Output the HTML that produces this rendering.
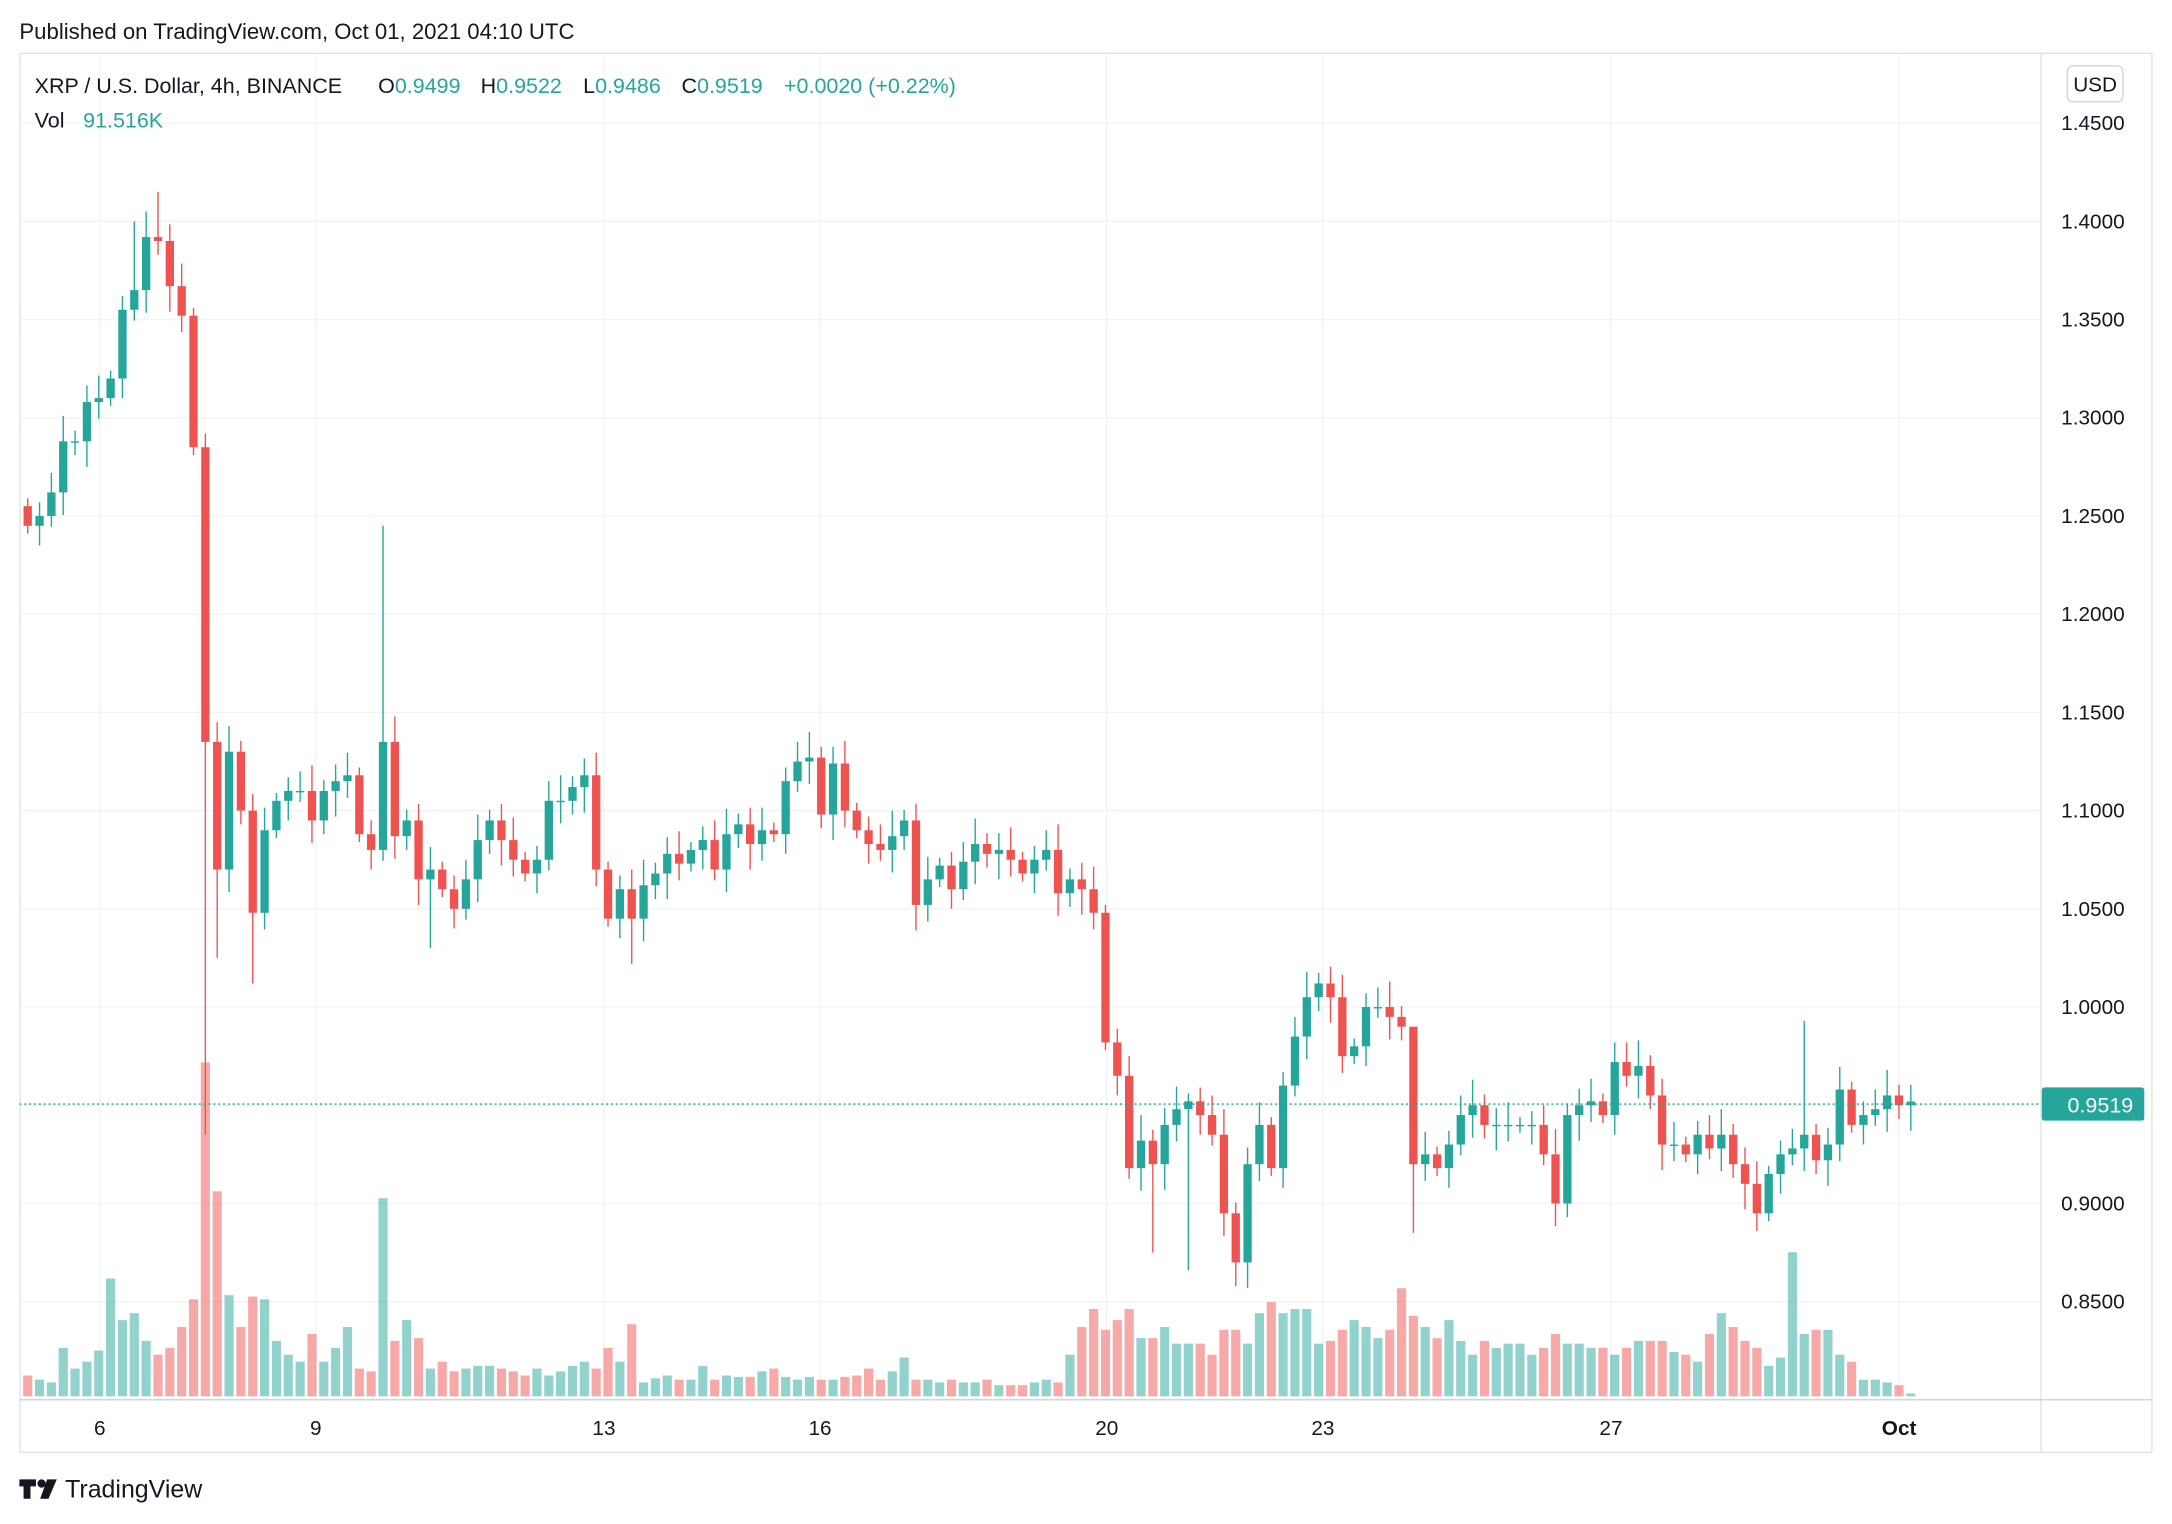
<!DOCTYPE html>
<html><head><meta charset="utf-8">
<style>
html,body{margin:0;padding:0;background:#fff;}
svg{display:block;}
text{font-family:"Liberation Sans",sans-serif;}
</style></head>
<body>
<svg id="s" width="2172" height="1524" viewBox="0 0 1568 1100.2" xmlns="http://www.w3.org/2000/svg">
<rect width="1568" height="1101" fill="#fff"/>
<g id="grid"></g>
<rect x="14.5" y="38.5" width="1539" height="1010" fill="none" stroke="#e0e3eb"/>
<line x1="1473.5" y1="38" x2="1473.5" y2="1048" stroke="#e0e3eb"/>
<line x1="14" y1="1010.5" x2="1553" y2="1010.5" stroke="#d1d4dc"/>
<g id="vol"></g>
<g id="candles"></g>
<line x1="14" y1="797" x2="1473" y2="797" stroke="#26a69a" stroke-dasharray="1.5,2" stroke-width="1"/>
<g id="labels" font-size="15" fill="#131722"></g>
<text x="14" y="28" font-size="16" fill="#131722">Published on TradingView.com, Oct 01, 2021 04:10 UTC</text>
<g font-size="15.5">
<text x="25" y="67" fill="#131722">XRP / U.S. Dollar, 4h, BINANCE</text>
<text x="273" y="67" fill="#131722">O<tspan fill="#26a69a">0.9499</tspan></text>
<text x="347" y="67" fill="#131722">H<tspan fill="#26a69a">0.9522</tspan></text>
<text x="421" y="67" fill="#131722">L<tspan fill="#26a69a">0.9486</tspan></text>
<text x="492" y="67" fill="#131722">C<tspan fill="#26a69a">0.9519</tspan></text>
<text x="566" y="67" fill="#26a69a">+0.0020 (+0.22%)</text>
<text x="25" y="92" fill="#131722">Vol</text>
<text x="60" y="92" fill="#26a69a">91.516K</text>
</g>
<rect x="1492.5" y="47.5" width="40" height="26" rx="4" fill="#fff" stroke="#d1d4dc"/>
<text x="1512.5" y="66" font-size="15" text-anchor="middle" fill="#131722">USD</text>
<rect x="1474" y="785" width="74" height="24" rx="2" fill="#26a69a"/>
<text x="1540" y="803" font-size="15.5" text-anchor="end" fill="#fff">0.9519</text>
<g fill="#131722"><path d="M14 1068h12v5h-4v9h-5v-9h-3z"/><circle cx="30" cy="1071" r="3"/><path d="M34 1068h7l-6 14h-6z"/></g>
<text x="47" y="1081" font-size="18" fill="#131722">TradingView</text>
</svg>
<script>
const NS="http://www.w3.org/2000/svg";
function el(t,a,p){const e=document.createElementNS(NS,t);for(const k in a)e.setAttribute(k,a[k]);document.getElementById(p).appendChild(e);return e;}
const Y=p=>727-(p-1.0)*1418;
for(let i=0;i<=12;i++){const p=0.85+i*0.05;const y=Y(p);
 el('line',{x1:14,x2:1473,y1:y,y2:y,stroke:'#f0f3fa'},'grid');
 const t=el('text',{x:1488,y:y+5},'labels');t.textContent=p.toFixed(4);}
const dates=[[72,'6'],[228,'9'],[436,'13'],[592,'16'],[799,'20'],[955,'23'],[1163,'27'],[1371,'Oct']];
for(const [x,l] of dates){el('line',{x1:x,x2:x,y1:38,y2:1010,stroke:'#f0f3fa'},'grid');
 const t=el('text',{x:x,y:1036,'text-anchor':'middle','font-weight':l=='Oct'?'bold':'normal'},'labels');t.textContent=l;}
const C=[1.245,1.25,1.262,1.288,1.288,1.308,1.31,1.32,1.355,1.365,1.392,1.39,1.367,1.352,1.285,1.135,1.07,1.13,1.10,1.048,1.09,1.105,1.11,1.11,1.095,1.11,1.115,1.118,1.088,1.08,1.135,1.087,1.095,1.065,1.07,1.06,1.05,1.065,1.085,1.095,1.085,1.075,1.068,1.075,1.105,1.105,1.112,1.118,1.07,1.045,1.06,1.045,1.062,1.068,1.078,1.073,1.08,1.085,1.07,1.088,1.093,1.083,1.09,1.088,1.115,1.125,1.127,1.098,1.124,1.1,1.09,1.083,1.08,1.087,1.095,1.08,1.052,1.065,1.072,1.06,1.074,1.083,1.078,1.08,1.075,1.068,1.065,1.075,1.08,1.058,1.065,1.06,1.048,0.982,0.965,0.918,0.932,0.92,0.94,0.948,0.952,0.945,0.935,0.895,0.87,0.92,0.94,0.918,0.96,0.985,1.005,1.012,1.005,0.975,0.98,1.0,1.0,0.995,0.99,0.92,0.918,0.93,0.945,0.95,0.94,0.94,0.94,0.94,0.94,0.925,0.9,0.945,0.95,0.952,0.945,0.972,0.965,0.97,0.955,0.93,0.925,0.935,0.928,0.935,0.92,0.91,0.895,0.915,0.925,0.928,0.935,0.922,0.93,0.958,0.94,0.945,0.948,0.955,0.95,0.9519];
const V=[15,12,10,35,20,25,33,85,55,60,40,30,35,50,70,241,148,73,50,72,70,40,30,25,45,25,35,50,20,18,143,40,55,42,20,25,18,20,22,22,20,18,15,20,15,18,22,25,20,35,25,52,10,13,15,12,12,22,12,15,14,14,18,20,14,12,14,12,12,14,15,20,12,18,28,14,12,12,10,12,10,10,12,8,8,8,8,10,12,10,30,50,63,48,55,63,42,42,50,38,38,38,30,48,48,38,60,68,60,63,63,38,40,48,55,50,42,48,78,58,42,55,40,30,40,35,38,38,30,35,45,38,38,35,35,30,35,40,40,40,30,25,45,60,50,40,35,22,28,104,45,48,48,30,25,12,12,10,8,2];
const HI={11:1.415,30:1.245,150:0.993,9:1.40,119:0.96,135:0.982};
const LO={15:0.935,16:1.025,19:1.012,104:0.858,97:0.875,100:0.866,119:0.885,146:0.886,34:1.03,51:1.022};
let D=C.map((c,i)=>({c:c,v:V[i]||5,h:HI[i],l:LO[i]}));
D.splice(140,0,{c:0.93,v:32});
D.splice(120,0,{c:0.925,v:50});
D.splice(86,1);D.splice(75,1);
let prev=1.255;
for(let i=0;i<D.length;i++){
 const x=20+i*8.55,o=prev,c=D[i].c,up=c>=o;
 const col=up?'#26a69a':'#ef5350';
 const h=D[i].h||Math.max(o,c)+0.004+((i*37)%7)*0.0015;
 const l=D[i].l||Math.min(o,c)-0.004-((i*53)%7)*0.0015;
 el('line',{x1:x,x2:x,y1:Y(h),y2:Y(l),stroke:col,'stroke-width':1},'candles');
 const yt=Y(Math.max(o,c)),yb=Y(Math.min(o,c));
 el('rect',{x:x-3,y:yt,width:6,height:Math.max(1,yb-yt),fill:col},'candles');
 const vh=D[i].v;
 el('rect',{x:x-3.3,y:1008-vh,width:6.6,height:vh,fill:up?'rgba(38,166,154,0.5)':'rgba(239,83,80,0.5)'},'vol');
 prev=c;
}
</script>
</body></html>
